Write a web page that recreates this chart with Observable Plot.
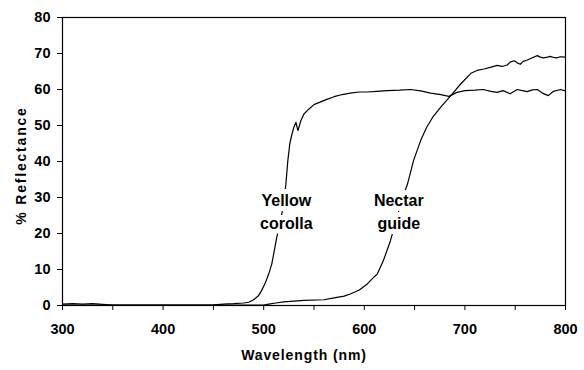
<!DOCTYPE html>
<html>
<head>
<meta charset="utf-8">
<script src="https://cdn.jsdelivr.net/npm/d3@7"></script>
<script src="https://cdn.jsdelivr.net/npm/@observablehq/plot@0.6"></script>
<style>
  html, body { margin: 0; padding: 0; background: #fff; }
  svg { font-family: "Liberation Sans", Arial, sans-serif; }
</style>
</head>
<body>
<div id="chart"></div>
<script>
// [wavelength nm, % reflectance]
const yellowCorolla = [
  [300,0.4],[310,0.5],[320,0.4],[330,0.5],[340,0.3],[350,0.1],[360,0.1],[400,0.1],
  [450,0.2],[460,0.4],[470,0.5],[480,0.7],[485,0.9],[490,1.6],[495,2.8],[498,4.2],
  [502,6.5],[505,8.8],[508,11.5],[510,14.4],[513,19],[516,22.5],[519,27],[522,33.5],
  [524,40.3],[526,45],[528,47.5],[530,49.5],[532,50.9],[534,48.6],[535,49.5],[537,51.4],
  [540,53.2],[545,54.6],[550,55.8],[556,56.5],[562,57.2],[570,58],[578,58.6],[586,59],
  [595,59.3],[603,59.3],[612,59.5],[623,59.7],[635,59.8],[646,60],[656,59.6],[666,59],
  [676,58.6],[684,58.1],[692,59.2],[700,59.7],[710,59.8],[718,60],[726,59.5],[732,59.2],
  [738,59.7],[745,58.8],[752,60],[757,59.7],[762,59.4],[767,59.9],[772,60],[777,59],
  [783,58.3],[788,59.5],[795,60],[800,59.6]
];
const nectarGuide = [
  [300,0.1],[400,0.1],[500,0.1],[505,0.4],[512,0.7],[520,1],[540,1.4],[560,1.6],
  [570,2.1],[580,2.6],[586,3.2],[595,4.3],[603,6],[610,8],[613,8.8],[619,12.5],
  [626,18],[632,24],[637,29],[643,33.8],[649,40.3],[656,45.8],[662,49.5],[668,52.3],
  [676,55.1],[686,58.3],[696,61.6],[706,64.5],[712,65.3],[719,65.7],[726,66.2],[732,66.7],
  [737,66.4],[742,66.8],[745,67.6],[749,68],[752,67.4],[755,67],[758,67.8],[762,68.2],
  [767,68.8],[772,69.4],[775,69],[778,68.8],[782,69],[785,69.2],[788,68.9],[791,68.8],
  [795,69.1],[800,69]
];
const curveLabels = [
  {nm: 522.5, r: 26.5, text: "Yellow\ncorolla"},
  {nm: 634.3, r: 26.5, text: "Nectar\nguide"}
];
const xTicks = [300,350,400,450,500,550,600,650,700,750,800];
const yTicks = [0,10,20,30,40,50,60,70,80];
const xTitle = "Wavelength (nm)";
const yTitle = "% Reflectance";

const chart = Plot.plot({
  width: 584,
  height: 370,
  marginLeft: 62,
  marginRight: 19,
  marginTop: 17,
  marginBottom: 65,
  style: {fontFamily: "Liberation Sans, Arial, sans-serif", background: "#fff", color: "#000"},
  x: {domain: [300, 800]},
  y: {domain: [0, 80]},
  marks: [
    Plot.line(yellowCorolla, {x: d => d[0], y: d => d[1], stroke: "#000", strokeWidth: 1.2}),
    Plot.line(nectarGuide, {x: d => d[0], y: d => d[1], stroke: "#000", strokeWidth: 1.2}),
    Plot.text(curveLabels, {
      x: "nm", y: "r", text: "text",
      fontSize: 16, fontWeight: "bold", lineHeight: 1.47,
      textAnchor: "middle", lineAnchor: "middle",
      fill: "#000", stroke: "#fff", strokeWidth: 10
    }),
    Plot.frame({stroke: "#000", strokeWidth: 1.2}),
    Plot.ruleY([0], {stroke: "#000", strokeWidth: 1.2}),
    Plot.axisX({
      ticks: xTicks, tickSize: 5, tickPadding: 13,
      tickFormat: d => d % 100 === 0 ? String(d) : "",
      fontSize: 14.5, fontWeight: "bold", label: null, stroke: "#000"
    }),
    Plot.axisY({
      ticks: yTicks, tickSize: 5, tickPadding: 7,
      fontSize: 14.5, fontWeight: "bold", label: null, stroke: "#000"
    }),
    Plot.text([xTitle], {
      frameAnchor: "bottom", dx: -10, dy: 50, text: d => d,
      fontSize: 14, fontWeight: "bold", textAnchor: "middle", lineAnchor: "middle",
      fill: "#000"
    }),
    Plot.text([yTitle], {
      frameAnchor: "left", dx: -41, dy: 4, rotate: -90, text: d => d,
      fontSize: 14, fontWeight: "bold", textAnchor: "middle", lineAnchor: "middle",
      fill: "#000"
    })
  ]
});
chart.querySelectorAll("text").forEach(t => {
  if (t.textContent === xTitle) t.style.letterSpacing = "0.9px";
  if (t.textContent === yTitle) t.style.letterSpacing = "1.8px";
});
document.getElementById("chart").appendChild(chart);
</script>
</body>
</html>
